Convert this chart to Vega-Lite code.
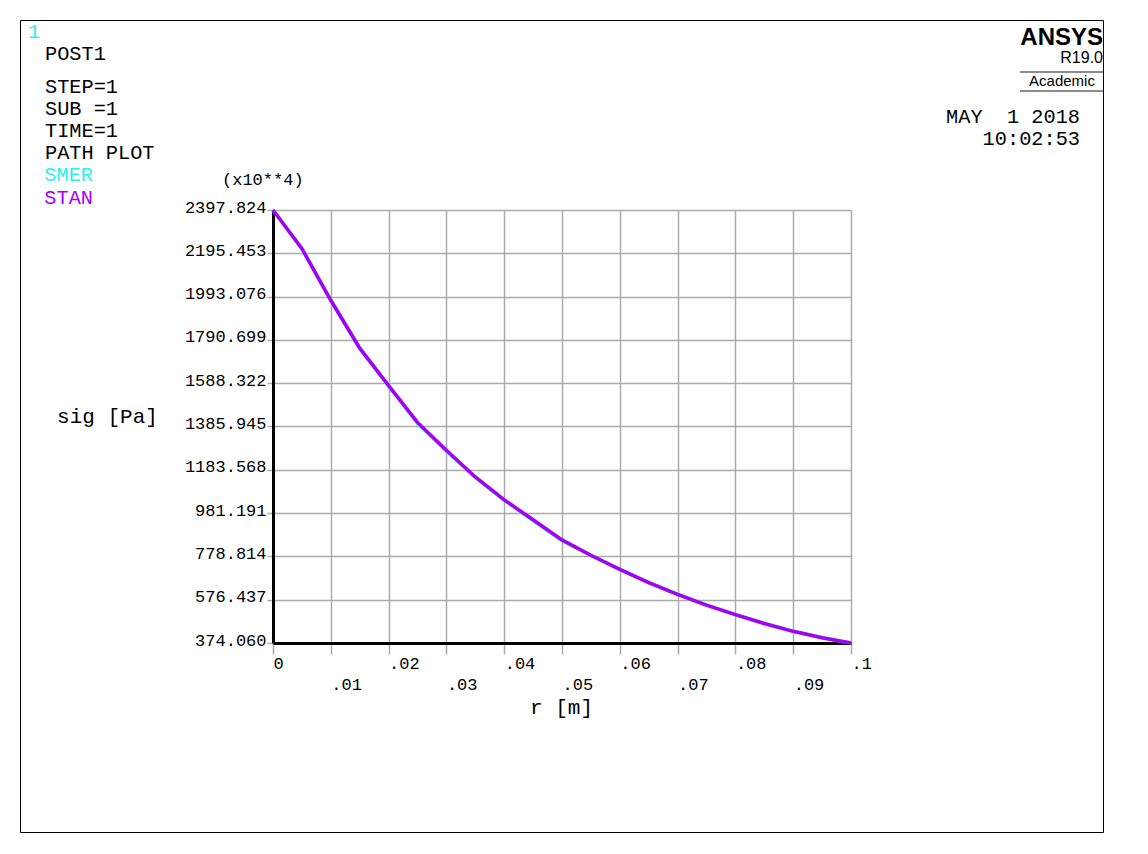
{
  "$schema": "https://vega.github.io/schema/vega-lite/v6.json",
  "width": 578,
  "height": 433,
  "autosize": {"type": "none"},
  "padding": {"left": 273, "top": 210, "right": 297, "bottom": 211},
  "background": "white",
  "config": {"view": {"stroke": null}, "font": "Liberation Mono"},
  "data": {"values": [
    {"series": "SMER", "r": 0, "sig": 2397.824},
    {"series": "SMER", "r": 0.005, "sig": 2219},
    {"series": "SMER", "r": 0.01, "sig": 1976},
    {"series": "SMER", "r": 0.015, "sig": 1752},
    {"series": "SMER", "r": 0.02, "sig": 1576},
    {"series": "SMER", "r": 0.025, "sig": 1401},
    {"series": "SMER", "r": 0.03, "sig": 1271},
    {"series": "SMER", "r": 0.035, "sig": 1148},
    {"series": "SMER", "r": 0.04, "sig": 1042},
    {"series": "SMER", "r": 0.045, "sig": 946},
    {"series": "SMER", "r": 0.05, "sig": 853},
    {"series": "SMER", "r": 0.055, "sig": 783},
    {"series": "SMER", "r": 0.06, "sig": 718},
    {"series": "SMER", "r": 0.065, "sig": 656},
    {"series": "SMER", "r": 0.07, "sig": 601},
    {"series": "SMER", "r": 0.075, "sig": 551},
    {"series": "SMER", "r": 0.08, "sig": 507},
    {"series": "SMER", "r": 0.085, "sig": 465},
    {"series": "SMER", "r": 0.09, "sig": 428.6},
    {"series": "SMER", "r": 0.095, "sig": 399},
    {"series": "SMER", "r": 0.1, "sig": 374.06},
    {"series": "STAN", "r": 0, "sig": 2397.824},
    {"series": "STAN", "r": 0.005, "sig": 2217},
    {"series": "STAN", "r": 0.01, "sig": 1976},
    {"series": "STAN", "r": 0.015, "sig": 1752},
    {"series": "STAN", "r": 0.02, "sig": 1577},
    {"series": "STAN", "r": 0.025, "sig": 1405},
    {"series": "STAN", "r": 0.03, "sig": 1275},
    {"series": "STAN", "r": 0.035, "sig": 1150},
    {"series": "STAN", "r": 0.04, "sig": 1043},
    {"series": "STAN", "r": 0.045, "sig": 950},
    {"series": "STAN", "r": 0.05, "sig": 856},
    {"series": "STAN", "r": 0.055, "sig": 784},
    {"series": "STAN", "r": 0.06, "sig": 718},
    {"series": "STAN", "r": 0.065, "sig": 656},
    {"series": "STAN", "r": 0.07, "sig": 601},
    {"series": "STAN", "r": 0.075, "sig": 551},
    {"series": "STAN", "r": 0.08, "sig": 507},
    {"series": "STAN", "r": 0.085, "sig": 465},
    {"series": "STAN", "r": 0.09, "sig": 428.6},
    {"series": "STAN", "r": 0.095, "sig": 399},
    {"series": "STAN", "r": 0.1, "sig": 374.06}
  ]},
  "layer": [
    {
      "mark": {"type": "line", "strokeWidth": 3.5},
      "encoding": {
        "x": {
          "field": "r", "type": "quantitative",
          "scale": {"domain": [0, 0.1], "nice": false, "zero": false},
          "axis": {
            "title": "r [m]",
            "values": [0, 0.01, 0.02, 0.03, 0.04, 0.05, 0.06, 0.07, 0.08, 0.09, 0.1],
            "labelExpr": "datum.value == 0 ? '0' : substring(format(datum.value, '.2~f'), 1)",
            "grid": true, "gridColor": "#AAAAAA", "gridWidth": 1.5,
            "domainColor": "#000000", "domainWidth": 3,
            "tickColor": "#AAAAAA", "tickWidth": 1.5,
            "tickSize": 11,
            "labelFont": "Liberation Mono", "labelFontSize": 17, "labelColor": "#000000",
            "labelAlign": "left", "labelBaseline": "alphabetic",
            "labelPadding": {"condition": {"test": "round(datum.value*100) % 2 == 1", "value": 35}, "value": 14},
            "labelFlush": false, "labelOverlap": false, "labelBound": false,
            "titleFont": "Liberation Mono", "titleFontSize": 21, "titleFontWeight": "normal", "titleColor": "#000000",
            "titleX": 288, "titleY": 70, "titleAlign": "center", "titleBaseline": "alphabetic"
          }
        },
        "y": {
          "field": "sig", "type": "quantitative",
          "scale": {"domain": [374.06, 2397.824], "nice": false, "zero": false},
          "axis": {
            "title": "sig [Pa]",
            "values": [374.06, 576.437, 778.814, 981.191, 1183.568, 1385.945, 1588.322, 1790.699, 1993.076, 2195.453, 2397.824],
            "labelExpr": "format(datum.value, '.3f')",
            "grid": true, "gridColor": "#AAAAAA", "gridWidth": 1.5,
            "domainColor": "#000000", "domainWidth": 3,
            "tickColor": "#AAAAAA", "tickWidth": 1.5, "tickSize": 6,
            "labelFont": "Liberation Mono", "labelFontSize": 17, "labelColor": "#000000",
            "labelBaseline": "alphabetic", "labelPadding": 1, "labelOffset": 2,
            "labelFlush": false, "labelOverlap": false, "labelBound": false,
            "titleFont": "Liberation Mono", "titleFontSize": 21, "titleFontWeight": "normal", "titleColor": "#000000",
            "titleAngle": 0, "titleX": -166, "titleY": 212, "titleAlign": "center", "titleBaseline": "alphabetic"
          }
        },
        "color": {
          "field": "series", "type": "nominal",
          "scale": {"domain": ["SMER", "STAN"], "range": ["#2EEEEE", "#A600F4"]},
          "legend": {
            "title": null, "orient": "none", "direction": "vertical",
            "legendX": -249, "legendY": -45,
            "symbolSize": 0, "symbolOpacity": 0, "symbolStrokeWidth": 0,
            "labelFont": "Liberation Mono", "labelFontSize": 20.3, "labelOffset": 0,
            "rowPadding": 1.5, "padding": 0,
            "encode": {"labels": {"update": {"fill": {"scale": "color", "field": "value"}}}}
          }
        }
      }
    },
    {
      "data": {"values": [{}]},
      "mark": {"type": "rect", "filled": false, "stroke": "#000000", "strokeWidth": 1},
      "encoding": {
        "x": {"datum": -0.043685, "type": "quantitative"},
        "x2": {"datum": 0.143685},
        "y": {"datum": 3283.51, "type": "quantitative"},
        "y2": {"datum": -511.63}
      }
    },
    {
      "data": {"values": [{}]},
      "mark": {"type": "text", "align": "left", "baseline": "alphabetic", "font": "Liberation Mono", "fontSize": 20.3, "color": "#2EEEEE", "text": "1"},
      "encoding": {"x": {"datum": -0.042388, "type": "quantitative"}, "y": {"datum": 3201.72, "type": "quantitative"}}
    },
    {
      "data": {"values": [{}]},
      "mark": {"type": "text", "align": "left", "baseline": "alphabetic", "font": "Liberation Mono", "fontSize": 20.3, "color": "#000000", "text": "POST1"},
      "encoding": {"x": {"datum": -0.039446, "type": "quantitative"}, "y": {"datum": 3100.29, "type": "quantitative"}}
    },
    {
      "data": {"values": [{}]},
      "mark": {"type": "text", "align": "left", "baseline": "alphabetic", "font": "Liberation Mono", "fontSize": 20.3, "lineHeight": 22, "color": "#000000", "text": ["STEP=1", "SUB =1", "TIME=1", "PATH PLOT"]},
      "encoding": {"x": {"datum": -0.039446, "type": "quantitative"}, "y": {"datum": 2946.06, "type": "quantitative"}}
    },
    {
      "data": {"values": [{}]},
      "mark": {"type": "text", "align": "left", "baseline": "alphabetic", "font": "Liberation Mono", "fontSize": 17, "color": "#000000", "text": "(x10**4)"},
      "encoding": {"x": {"datum": -0.008824, "type": "quantitative"}, "y": {"datum": 2514.67, "type": "quantitative"}}
    },
    {
      "data": {"values": [{}]},
      "mark": {"type": "text", "align": "right", "baseline": "alphabetic", "font": "Liberation Sans", "fontWeight": "bold", "fontSize": 24, "color": "#000000", "text": "ANSYS"},
      "encoding": {"x": {"datum": 0.143599, "type": "quantitative"}, "y": {"datum": 3169.0, "type": "quantitative"}}
    },
    {
      "data": {"values": [{}]},
      "mark": {"type": "text", "align": "right", "baseline": "alphabetic", "font": "Liberation Sans", "fontSize": 16, "color": "#000000", "text": "R19.0"},
      "encoding": {"x": {"datum": 0.143599, "type": "quantitative"}, "y": {"datum": 3084.87, "type": "quantitative"}}
    },
    {
      "data": {"values": [{}]},
      "mark": {"type": "rule", "stroke": "#8C8C8C", "strokeWidth": 2},
      "encoding": {"x": {"datum": 0.129239, "type": "quantitative"}, "x2": {"datum": 0.143599}, "y": {"datum": 3042.81, "type": "quantitative"}}
    },
    {
      "data": {"values": [{}]},
      "mark": {"type": "text", "align": "center", "baseline": "alphabetic", "font": "Liberation Sans", "fontSize": 15, "color": "#000000", "text": "Academic"},
      "encoding": {"x": {"datum": 0.136505, "type": "quantitative"}, "y": {"datum": 2977.37, "type": "quantitative"}}
    },
    {
      "data": {"values": [{}]},
      "mark": {"type": "rule", "stroke": "#8C8C8C", "strokeWidth": 2},
      "encoding": {"x": {"datum": 0.129239, "type": "quantitative"}, "x2": {"datum": 0.143599}, "y": {"datum": 2954.0, "type": "quantitative"}}
    },
    {
      "data": {"values": [{}]},
      "mark": {"type": "text", "align": "right", "baseline": "alphabetic", "font": "Liberation Mono", "fontSize": 20.3, "lineHeight": 22, "color": "#000000", "text": ["MAY\u00a0\u00a01 2018", "10:02:53"]},
      "encoding": {"x": {"datum": 0.139619, "type": "quantitative"}, "y": {"datum": 2806.78, "type": "quantitative"}}
    }
  ]
}
